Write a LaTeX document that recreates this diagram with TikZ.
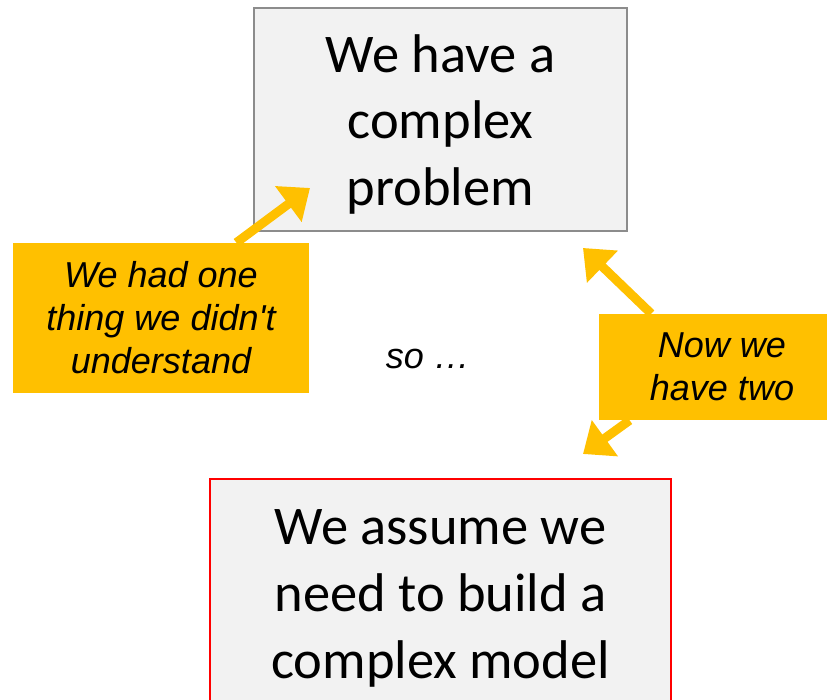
\documentclass[tikz,border=0pt]{standalone}
\usepackage{fontspec}
\setmainfont{Carlito}
\newfontfamily\notefont{Liberation Sans}
\usetikzlibrary{arrows.meta}
\definecolor{boxgray}{HTML}{F2F2F2}
\definecolor{edgegray}{HTML}{8C8C8C}
\definecolor{noteyellow}{HTML}{FFC000}
\newcommand{\topstrut}{\rule{0pt}{27pt}}

\begin{document}
\begin{tikzpicture}[
    bigbox/.style={fill=boxgray,line width=0.9pt,align=center,inner sep=0pt,
      font=\fontsize{31}{38}\selectfont},
    note/.style={fill=noteyellow,align=center,inner sep=0pt,
      font=\notefont\itshape\fontsize{20.5}{24.5}\selectfont},
    pointer/.style={noteyellow,line width=0.18cm,
      -{Triangle[length=0.54cm,width=0.86cm]}}]
      \useasboundingbox (0,0) rectangle (16.54,14) ;
      \node[bigbox,draw=edgegray,minimum width=7.46cm,minimum height=4.46cm] %
      (problem) at (8.81,11.61) {\topstrut We have a\\complex\\problem} ;
      \node[bigbox,draw=red,minimum width=9.22cm,minimum height=4.52cm] %
      (model) at (8.81,2.16) {\topstrut We assume we\\need to build a\\complex model} ;
      \node[note,minimum width=5.92cm,minimum height=3cm] %
      (one) at (3.22,7.64) {We had one\\thing we didn't\\understand} ;
      \node[note,minimum width=4.92cm,minimum height=2.12cm] %
      (two) at (14.44,6.66) {Now we\\have two} ;
      \node[font=\notefont\itshape\fontsize{20.5}{24.5}\selectfont] %
      (so) at (8.56,6.82) {so \dots} ;
      % arrow tips
      \coordinate (tipa) at (6.2,10.24) ;
      \coordinate (tipb) at (11.66,9.04) ;
      \coordinate (tipc) at (11.66,4.92) ;
      \draw[pointer] (one.45)--(tipa) ;
      \draw[pointer] (two.143)--(tipb) ;
      \draw[pointer] (two.210)--(tipc) ;
    \end{tikzpicture}
\end{document}
